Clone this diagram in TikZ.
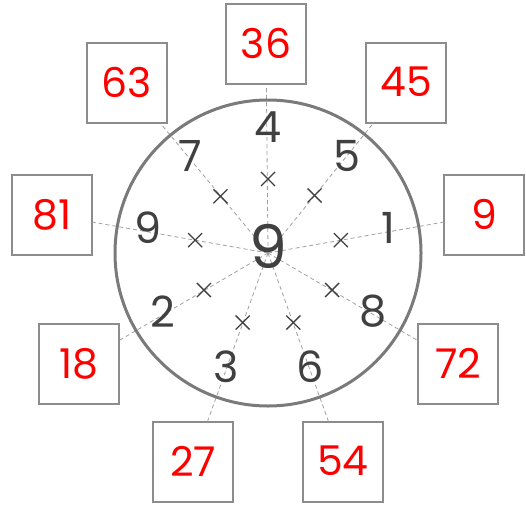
\documentclass[tikz,border=0pt]{standalone}
\usepackage{fontspec}
\setmainfont{Poppins}
\usetikzlibrary{calc}
\definecolor{ringgray}{HTML}{7A7A7A}
\definecolor{boxgray}{HTML}{8C8C8C}
\definecolor{raygray}{HTML}{A0A0A0}
\definecolor{digitgray}{HTML}{404040}
\begin{document}
\begin{tikzpicture}[x=1pt,y=-1pt,
  answerbox/.style={draw=boxgray, line width=1.2pt, minimum size=80pt, inner sep=0pt, text=red, font=\fontsize{41}{41}\selectfont},
  ray/.style={draw=raygray, line width=0.8pt, dash pattern=on 4pt off 3pt},
  digit/.style={text=digitgray, inner sep=0pt, font=\fontsize{43}{43}\selectfont},
  bigdigit/.style={text=digitgray, inner sep=0pt, font=\fontsize{60}{60}\selectfont},
  ring/.style={draw=ringgray, line width=3pt},
  crossmark/.style={draw=digitgray, line width=1.3pt}]
\useasboundingbox (0,0) rectangle (526,506);
\coordinate (c) at (268,253);
% answer boxes
\node[answerbox] (b36) at (266,44) {\raisebox{2pt}{36}};
\node[answerbox] (b45) at (406,83) {\raisebox{2pt}{45}};
\node[answerbox] (b9)  at (484,215) {\raisebox{2pt}{9}};
\node[answerbox] (b72) at (458,364) {\raisebox{2pt}{72}};
\node[answerbox] (b54) at (343,462) {\raisebox{2pt}{54}};
\node[answerbox] (b27) at (193,462) {\raisebox{2pt}{27}};
\node[answerbox] (b18) at (79,364) {\raisebox{2pt}{18}};
\node[answerbox] (b81) at (52,215) {\raisebox{2pt}{81}};
\node[answerbox] (b63) at (127,83) {\raisebox{2pt}{63}};
% rays
\foreach \b in {b36,b45,b9,b72,b54,b27,b18,b81,b63}
  \draw[ray] (c) -- (\b);
% ring
\draw[ring] (c) circle[radius=153];
% crosses
\foreach \a [count=\i] in {90,51,10,-30,-70,-110,-150,170,130}{
  \coordinate (x\i) at ($(c)+(-\a:74)$);
  \draw[crossmark] ($(x\i)+(-7,-7)$) -- ($(x\i)+(7,7)$);
  \draw[crossmark] ($(x\i)+(-7,7)$) -- ($(x\i)+(7,-7)$);
}
% inner digits
\node[digit] (n4) at (268,127) {4};
\node[digit] (n5) at (347,156) {5};
\node[digit] (n1) at (388,228) {1};
\node[digit] (n8) at (373,311) {8};
\node[digit] (n6) at (310,367) {6};
\node[digit] (n3) at (226,367) {3};
\node[digit] (n2) at (163,312) {2};
\node[digit] (n9) at (148,228) {9};
\node[digit] (n7) at (190,156) {7};
% centre
\node[bigdigit] (mid) at (268,246) {9};
\end{tikzpicture}
\end{document}
